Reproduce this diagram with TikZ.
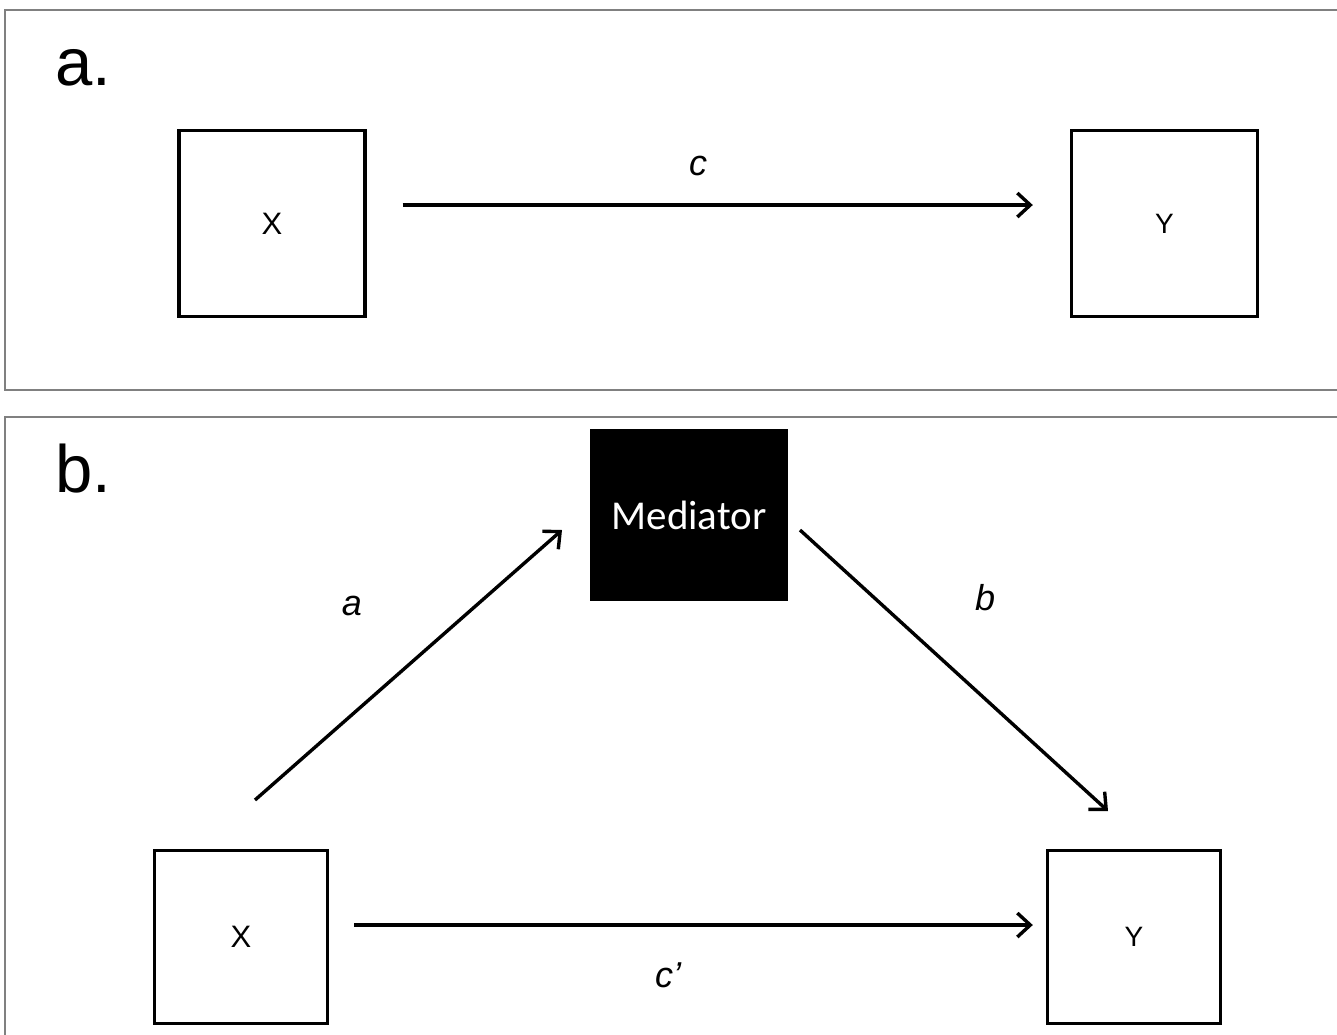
\documentclass[tikz,border=0pt]{standalone}
\usepackage{fontspec}
\setmainfont{Liberation Sans}
\newfontfamily\medfont{Carlito}
\usetikzlibrary{arrows.meta}
\tikzset{
  panel/.style={draw=black!50, line width=1.8pt},
  varbox/.style={draw, line width=3.4pt, minimum width=186pt, minimum height=186pt, inner sep=0pt, font=\fontsize{31}{33}\selectfont},
  varboxb/.style={draw, line width=3.4pt, minimum width=173pt, minimum height=173pt, inner sep=0pt, font=\fontsize{31}{33}\selectfont},
  medbox/.style={fill=black, text=white, minimum width=198pt, minimum height=172pt, inner sep=0pt, font=\medfont\fontsize{41}{43}\selectfont},
  conn/.style={line width=3.4pt, -{Straight Barb[length=13pt,width=24pt,line width=3.4pt]}},
  plabel/.style={font=\fontsize{36}{38}\selectfont\itshape},
  panlabel/.style={anchor=base west, inner sep=0pt, font=\fontsize{67}{69}\selectfont}
}
\begin{document}
\begin{tikzpicture}[x=1pt,y=-1pt]
\useasboundingbox (0,0) rectangle (1337,1034);
\clip (0,0) rectangle (1337,1034);
\fill[white] (0,0) rectangle (1337,1034);
% panels
\draw[panel] (5,10) rectangle (1350,390);
\draw[panel] (5,417) rectangle (1350,1050);
\node[panlabel] (la) at (55,85) {a.};
\node[panlabel] (lb) at (55,492) {b.};
% panel a
\node[varbox] (xa) at (272,223.5) {\raisebox{-5pt}{X}};
\node[varbox] (ya) at (1164.5,223.5) {\raisebox{-4pt}{\fontsize{28}{30}\selectfont Y}};
\draw[conn, shorten <=36pt, shorten >=37pt] (xa.east |- 0,205) -- (ya.west |- 0,205);
\node[plabel] (lc) at (698,166) {c};
% panel b
\node[medbox] (med) at (689,515) {\raisebox{-4pt}{Mediator}};
\node[varboxb] (xb) at (241,937) {\raisebox{-5pt}{X}};
\node[varboxb] (yb) at (1134,937) {\raisebox{-4pt}{\fontsize{28}{30}\selectfont Y}};
\coordinate (a1) at (255,800);
\coordinate (a2) at (562,530);
\coordinate (b1) at (800,530);
\coordinate (b2) at (1108,811);
\draw[conn] (a1) -- (a2);
\draw[conn] (b1) -- (b2);
\draw[conn, shorten <=25pt, shorten >=13pt] (xb.east |- 0,925) -- (yb.west |- 0,925);
\node[plabel] (la2) at (352,606) {a};
\node[plabel] (lb2) at (985,598) {b};
\node[plabel] (lc2) at (668,975) {c’};
\end{tikzpicture}
\end{document}
